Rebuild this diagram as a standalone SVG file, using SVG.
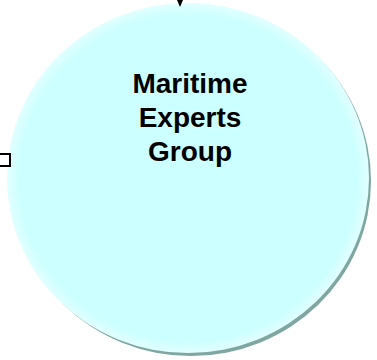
<svg xmlns="http://www.w3.org/2000/svg" width="377" height="360" viewBox="0 0 377 360">
<style>
.lbl{font-family:"Liberation Sans",Arial,sans-serif;font-weight:bold;font-size:28px;fill:#000;text-anchor:middle}
.conn{stroke:#000;stroke-width:1.5;fill:none}
</style>
<defs>
<radialGradient id="g" cx="0.5" cy="0.5" r="0.5">
<stop offset="0.93" stop-color="#ccffff"/>
<stop offset="1" stop-color="#e2ffff"/>
</radialGradient>
</defs>
<g id="node-maritime">
<ellipse cx="191" cy="181" rx="180" ry="175" fill="#7fa6a0"/>
<ellipse cx="188" cy="178" rx="181" ry="175" fill="url(#g)"/>
<text class="lbl" x="190" y="93">Maritime</text>
<text class="lbl" x="190" y="127">Experts</text>
<text class="lbl" x="190" y="161">Group</text>
</g>
<g id="connectors">
<line class="conn" x1="180" y1="-10" x2="180" y2="0"/>
<path d="M177,0 L180,7 L183,0 Z" fill="#000"/>
<rect x="-4" y="154" width="14" height="12" fill="#fff" stroke="#000" stroke-width="2"/>
</g>
</svg>
